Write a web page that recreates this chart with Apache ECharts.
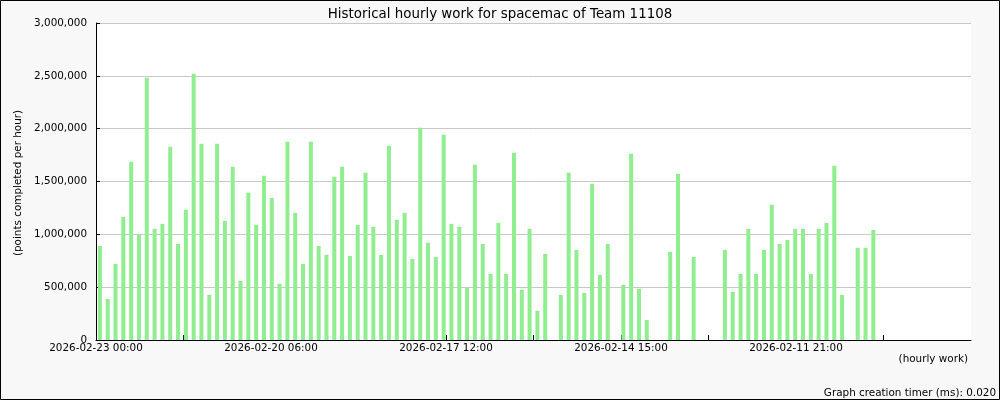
<!DOCTYPE html>
<html>
<head>
<meta charset="utf-8">
<script src="https://cdn.jsdelivr.net/npm/echarts@6/dist/echarts.min.js"></script>
<style>
html,body{margin:0;padding:0;background:#f8f8f8;}
#chart{width:1000px;height:400px;}
</style>
</head>
<body>
<div id="chart"></div>
<script>
// Hourly work values (points completed per hour); null = no bar
const values = [
  890000, 388000, 720000, 1165000, 1686000, 995000, 2482000, 1052000, 1099000, 1828000,
  909000, 1232000, 2520000, 1857000, 426000, 1857000, 1127000, 1639000, 559000, 1393000,
  1089000, 1554000, 1345000, 531000, 1876000, 1203000, 720000, 1876000, 890000, 805000,
  1544000, 1639000, 796000, 1089000, 1582000, 1071000, 805000, 1838000, 1137000, 1203000,
  767000, 2008000, 919000, 786000, 1942000, 1099000, 1071000, 496000, 1658000, 909000,
  625000, 1108000, 625000, 1772000, 474000, 1052000, 275000, 815000, null, 426000,
  1582000, 853000, 445000, 1478000, 616000, 909000, null, 521000, 1762000, 483000,
  189000, null, null, 834000, 1573000, null, 786000, null, null, null,
  853000, 455000, 625000, 1052000, 625000, 853000, 1279000, 909000, 947000, 1052000,
  1052000, 625000, 1052000, 1108000, 1648000, 426000, null, 872000, 872000, 1042000,
  null, null, null, null, null, null, null, null, null, null, null, null
];
// Category slots (one per bar position)
const categories = values.map((v, i) => String(i));
// Time-axis tick labels (evenly spaced ticks, labels on every other)
const tickLabels = [
  '2026-02-23 00:00', '', '2026-02-20 06:00', '', '2026-02-17 12:00', '',
  '2026-02-14 15:00', '', '2026-02-11 21:00', '', ''
];
const tickPositions = [0, 1, 2, 3, 4, 5, 6, 7, 8, 9];
const labelPositions = [0, 2, 4, 6, 8];
const titleText = 'Historical hourly work for spacemac of Team 11108';
const yName = '(points completed per hour)';
const xName = '(hourly work)';
const footer = 'Graph creation timer (ms): 0.020';

const FONT = 'DejaVu Sans';
const FS = 10.4;
const chart = echarts.init(document.getElementById('chart'), null, {renderer: 'canvas'});
chart.setOption({
  backgroundColor: '#f8f8f8',
  animation: false,
  textStyle: {fontFamily: FONT},
  title: {
    text: titleText, left: 'center', top: 3,
    textStyle: {fontFamily: FONT, fontSize: 13.4, fontWeight: 'normal', color: '#000'}
  },
  grid: {left: 96, top: 23, right: 29, bottom: 60, show: true, backgroundColor: '#ffffff', borderWidth: 0},
  xAxis: [
    {
      type: 'category', data: categories, boundaryGap: true,
      axisLine: {show: true, lineStyle: {color: '#000', width: 1}},
      axisTick: {show: false}, axisLabel: {show: false}, splitLine: {show: false}
    },
    {
      type: 'value', min: 0, max: 10, interval: 1, position: 'bottom',
      axisLine: {show: false},
      axisTick: {show: true, inside: true, length: 5, lineStyle: {color: '#000'}, customValues: tickPositions},
      axisLabel: {
        show: true, margin: 3, color: '#000', fontFamily: FONT, fontSize: FS,
        customValues: labelPositions,
        formatter: v => tickLabels[Math.round(v)] || ''
      },
      splitLine: {show: false}
    }
  ],
  yAxis: {
    type: 'value', min: 0, max: 3000000, interval: 500000,
    axisLine: {show: true, lineStyle: {color: '#000'}},
    axisTick: {show: true, inside: true, length: 4, lineStyle: {color: '#000'}},
    axisLabel: {
      color: '#000', fontFamily: FONT, fontSize: FS, margin: 9,
      formatter: v => v.toLocaleString('en-US')
    },
    splitLine: {show: true, lineStyle: {color: '#c8c8c8', width: 1}}
  },
  series: [{
    type: 'bar', data: values, xAxisIndex: 0, barWidth: 4,
    itemStyle: {color: '#90ee90'}
  }],
  graphic: [
    {type: 'rect', silent: true, z: 100, shape: {x: 0.5, y: 0.5, width: 999, height: 399},
     style: {fill: null, stroke: '#000', lineWidth: 1}},
    {type: 'text', x: 18, y: 183, rotation: Math.PI / 2, z: 100,
     style: {text: yName, fontFamily: FONT, fontSize: FS, fill: '#000', align: 'center', verticalAlign: 'middle'}},
    {type: 'text', x: 968, y: 359, z: 100,
     style: {text: xName, fontFamily: FONT, fontSize: FS, fill: '#000', align: 'right', verticalAlign: 'middle'}},
    {type: 'text', x: 996, y: 393, z: 100,
     style: {text: footer, fontFamily: FONT, fontSize: FS, fill: '#000', align: 'right', verticalAlign: 'middle'}}
  ]
});
</script>
</body>
</html>
